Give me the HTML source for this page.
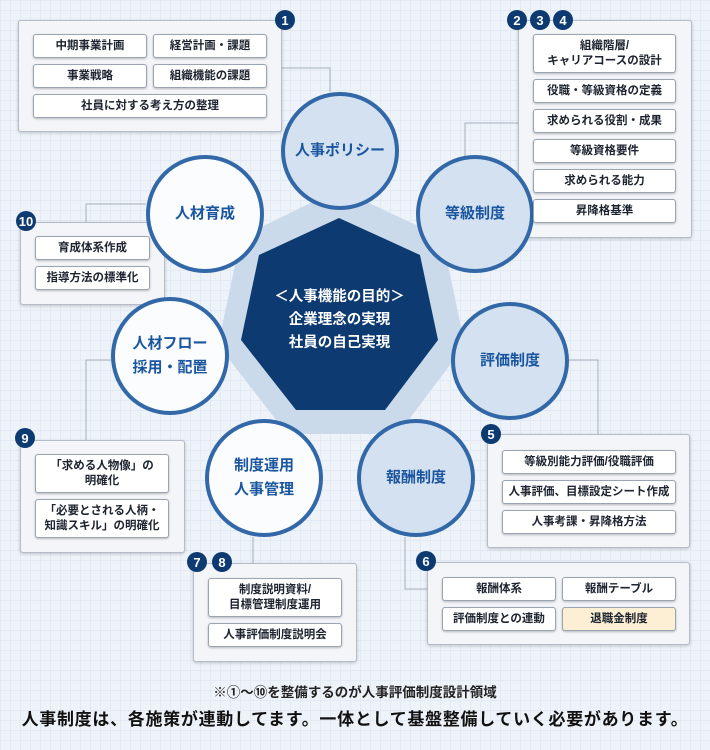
<!DOCTYPE html>
<html><head><meta charset="utf-8"><style>
*{margin:0;padding:0;box-sizing:border-box}
body{width:710px;height:750px;overflow:hidden;position:relative;font-family:"Liberation Sans","Noto Sans CJK JP",sans-serif;
background-color:#eef3f9;background-image:linear-gradient(#e3eaf3 1px,transparent 1px),linear-gradient(90deg,#e3eaf3 1px,transparent 1px);background-size:10px 10px}
.ab{position:absolute}
.box{position:absolute;background:#f3f5f8;border:1px solid #b3bcc8;border-radius:3px;box-shadow:0 1px 3px rgba(0,0,0,.2)}
.btn{position:absolute;background:#fff;border:1px solid #9aa5b3;border-radius:3px;box-shadow:0 1px 2px rgba(0,0,0,.25);font-size:11.5px;font-weight:bold;color:#1d2430;display:flex;align-items:center;justify-content:center;text-align:center;line-height:15px}
.bd{position:absolute;width:20px;height:20px;border-radius:50%;background:#0e3a72;color:#fff;font-size:13px;font-weight:bold;display:flex;align-items:center;justify-content:center;z-index:3}
.c{position:absolute;border-radius:50%;border:4px solid #3268a8;display:flex;align-items:center;justify-content:center;text-align:center;color:#1a56a0;font-weight:bold;font-size:15px;line-height:24px;z-index:2}
.l{background:#d4e1f0}.w{background:#fafcfe}
</style></head><body>
<svg class="ab" style="left:0;top:0" width="710" height="750">
<polygon points="339,189 442,237 465,345 398,434 287,434 218,345 241,237" fill="#cbdaeb"/>
<polygon points="339,218 420,255 438,340 385,410 296,410 241,340 259,255" fill="#0e3a72"/>
<g fill="none" stroke="#a4afbd" stroke-width="1">
<polyline points="282,68 330,68 330,92"/>
<polyline points="518,123 465,123 465,157"/>
<polyline points="86,222 86,204 146,204"/>
<polyline points="86,440 86,360 112,360"/>
<polyline points="253,537 253,563"/>
<polyline points="405,537 405,589 427,589"/>
<polyline points="598,434 598,360 568,360"/>
</g>
</svg>
<div class="ab" style="left:241px;top:286px;width:197px;text-align:center;color:#fff;font-weight:bold;font-size:14.5px;line-height:23px;z-index:2">＜人事機能の目的＞<br>企業理念の実現<br>社員の自己実現</div>

<div class="c l" style="left:281px;top:92px;width:118px;height:118px">人事ポリシー</div>
<div class="c l" style="left:416px;top:155px;width:118px;height:118px">等級制度</div>
<div class="c w" style="left:146px;top:155px;width:118px;height:118px">人材育成</div>
<div class="c l" style="left:451px;top:302px;width:118px;height:118px">評価制度</div>
<div class="c w" style="left:111px;top:297px;width:118px;height:118px">人材フロー<br>採用・配置</div>
<div class="c w" style="left:205px;top:419px;width:118px;height:118px">制度運用<br>人事管理</div>
<div class="c l" style="left:357px;top:419px;width:118px;height:118px">報酬制度</div>

<div class="box" style="left:18px;top:20px;width:264px;height:112px"></div>
<div class="bd" style="left:275px;top:10px">1</div>
<div class="btn" style="left:33px;top:34px;width:114px;height:24px">中期事業計画</div>
<div class="btn" style="left:153px;top:34px;width:114px;height:24px">経営計画・課題</div>
<div class="btn" style="left:33px;top:64px;width:114px;height:24px">事業戦略</div>
<div class="btn" style="left:153px;top:64px;width:114px;height:24px">組織機能の課題</div>
<div class="btn" style="left:33px;top:94px;width:234px;height:24px">社員に対する考え方の整理</div>

<div class="box" style="left:518px;top:20px;width:174px;height:218px;z-index:1"></div>
<div class="bd" style="left:507px;top:10px">2</div>
<div class="bd" style="left:530px;top:10px">3</div>
<div class="bd" style="left:553px;top:10px">4</div>
<div class="btn" style="left:533px;top:34px;width:143px;height:39px;z-index:2">組織階層/<br>キャリアコースの設計</div>
<div class="btn" style="left:533px;top:79px;width:143px;height:24px;z-index:2">役職・等級資格の定義</div>
<div class="btn" style="left:533px;top:109px;width:143px;height:24px;z-index:2">求められる役割・成果</div>
<div class="btn" style="left:533px;top:139px;width:143px;height:24px;z-index:2">等級資格要件</div>
<div class="btn" style="left:533px;top:169px;width:143px;height:24px;z-index:2">求められる能力</div>
<div class="btn" style="left:533px;top:199px;width:143px;height:24px;z-index:2">昇降格基準</div>

<div class="box" style="left:20px;top:222px;width:145px;height:83px;z-index:1"></div>
<div class="bd" style="left:16px;top:211px">10</div>
<div class="btn" style="left:35px;top:236px;width:115px;height:24px;z-index:2">育成体系作成</div>
<div class="btn" style="left:35px;top:266px;width:115px;height:24px;z-index:2">指導方法の標準化</div>

<div class="box" style="left:20px;top:440px;width:165px;height:113px"></div>
<div class="bd" style="left:15px;top:428px">9</div>
<div class="btn" style="left:35px;top:454px;width:134px;height:39px">「求める人物像」の<br>明確化</div>
<div class="btn" style="left:35px;top:499px;width:134px;height:39px">「必要とされる人柄・<br>知識スキル」の明確化</div>

<div class="box" style="left:193px;top:563px;width:164px;height:99px"></div>
<div class="bd" style="left:187px;top:552px">7</div>
<div class="bd" style="left:212px;top:552px">8</div>
<div class="btn" style="left:208px;top:578px;width:134px;height:39px">制度説明資料/<br>目標管理制度運用</div>
<div class="btn" style="left:208px;top:623px;width:134px;height:24px">人事評価制度説明会</div>

<div class="box" style="left:427px;top:562px;width:263px;height:83px"></div>
<div class="bd" style="left:416px;top:551px">6</div>
<div class="btn" style="left:442px;top:577px;width:114px;height:24px">報酬体系</div>
<div class="btn" style="left:562px;top:577px;width:114px;height:24px">報酬テーブル</div>
<div class="btn" style="left:442px;top:607px;width:114px;height:24px">評価制度との連動</div>
<div class="btn" style="left:562px;top:607px;width:114px;height:24px;background:#fcefd3">退職金制度</div>

<div class="box" style="left:487px;top:434px;width:203px;height:114px"></div>
<div class="bd" style="left:481px;top:424px">5</div>
<div class="btn" style="left:502px;top:450px;width:174px;height:24px">等級別能力評価/役職評価</div>
<div class="btn" style="left:502px;top:480px;width:174px;height:24px">人事評価、目標設定シート作成</div>
<div class="btn" style="left:502px;top:510px;width:174px;height:24px">人事考課・昇降格方法</div>

<div class="ab" style="left:0;top:681px;width:710px;text-align:center;font-size:13.5px;font-weight:bold;color:#222;white-space:nowrap">※①～⑩を整備するのが人事評価制度設計領域</div>
<div class="ab" style="left:0;top:705px;width:710px;text-align:center;font-size:17px;font-weight:bold;color:#111;letter-spacing:0.7px;white-space:nowrap">人事制度は、各施策が連動してます。一体として基盤整備していく必要があります。</div>
</body></html>
